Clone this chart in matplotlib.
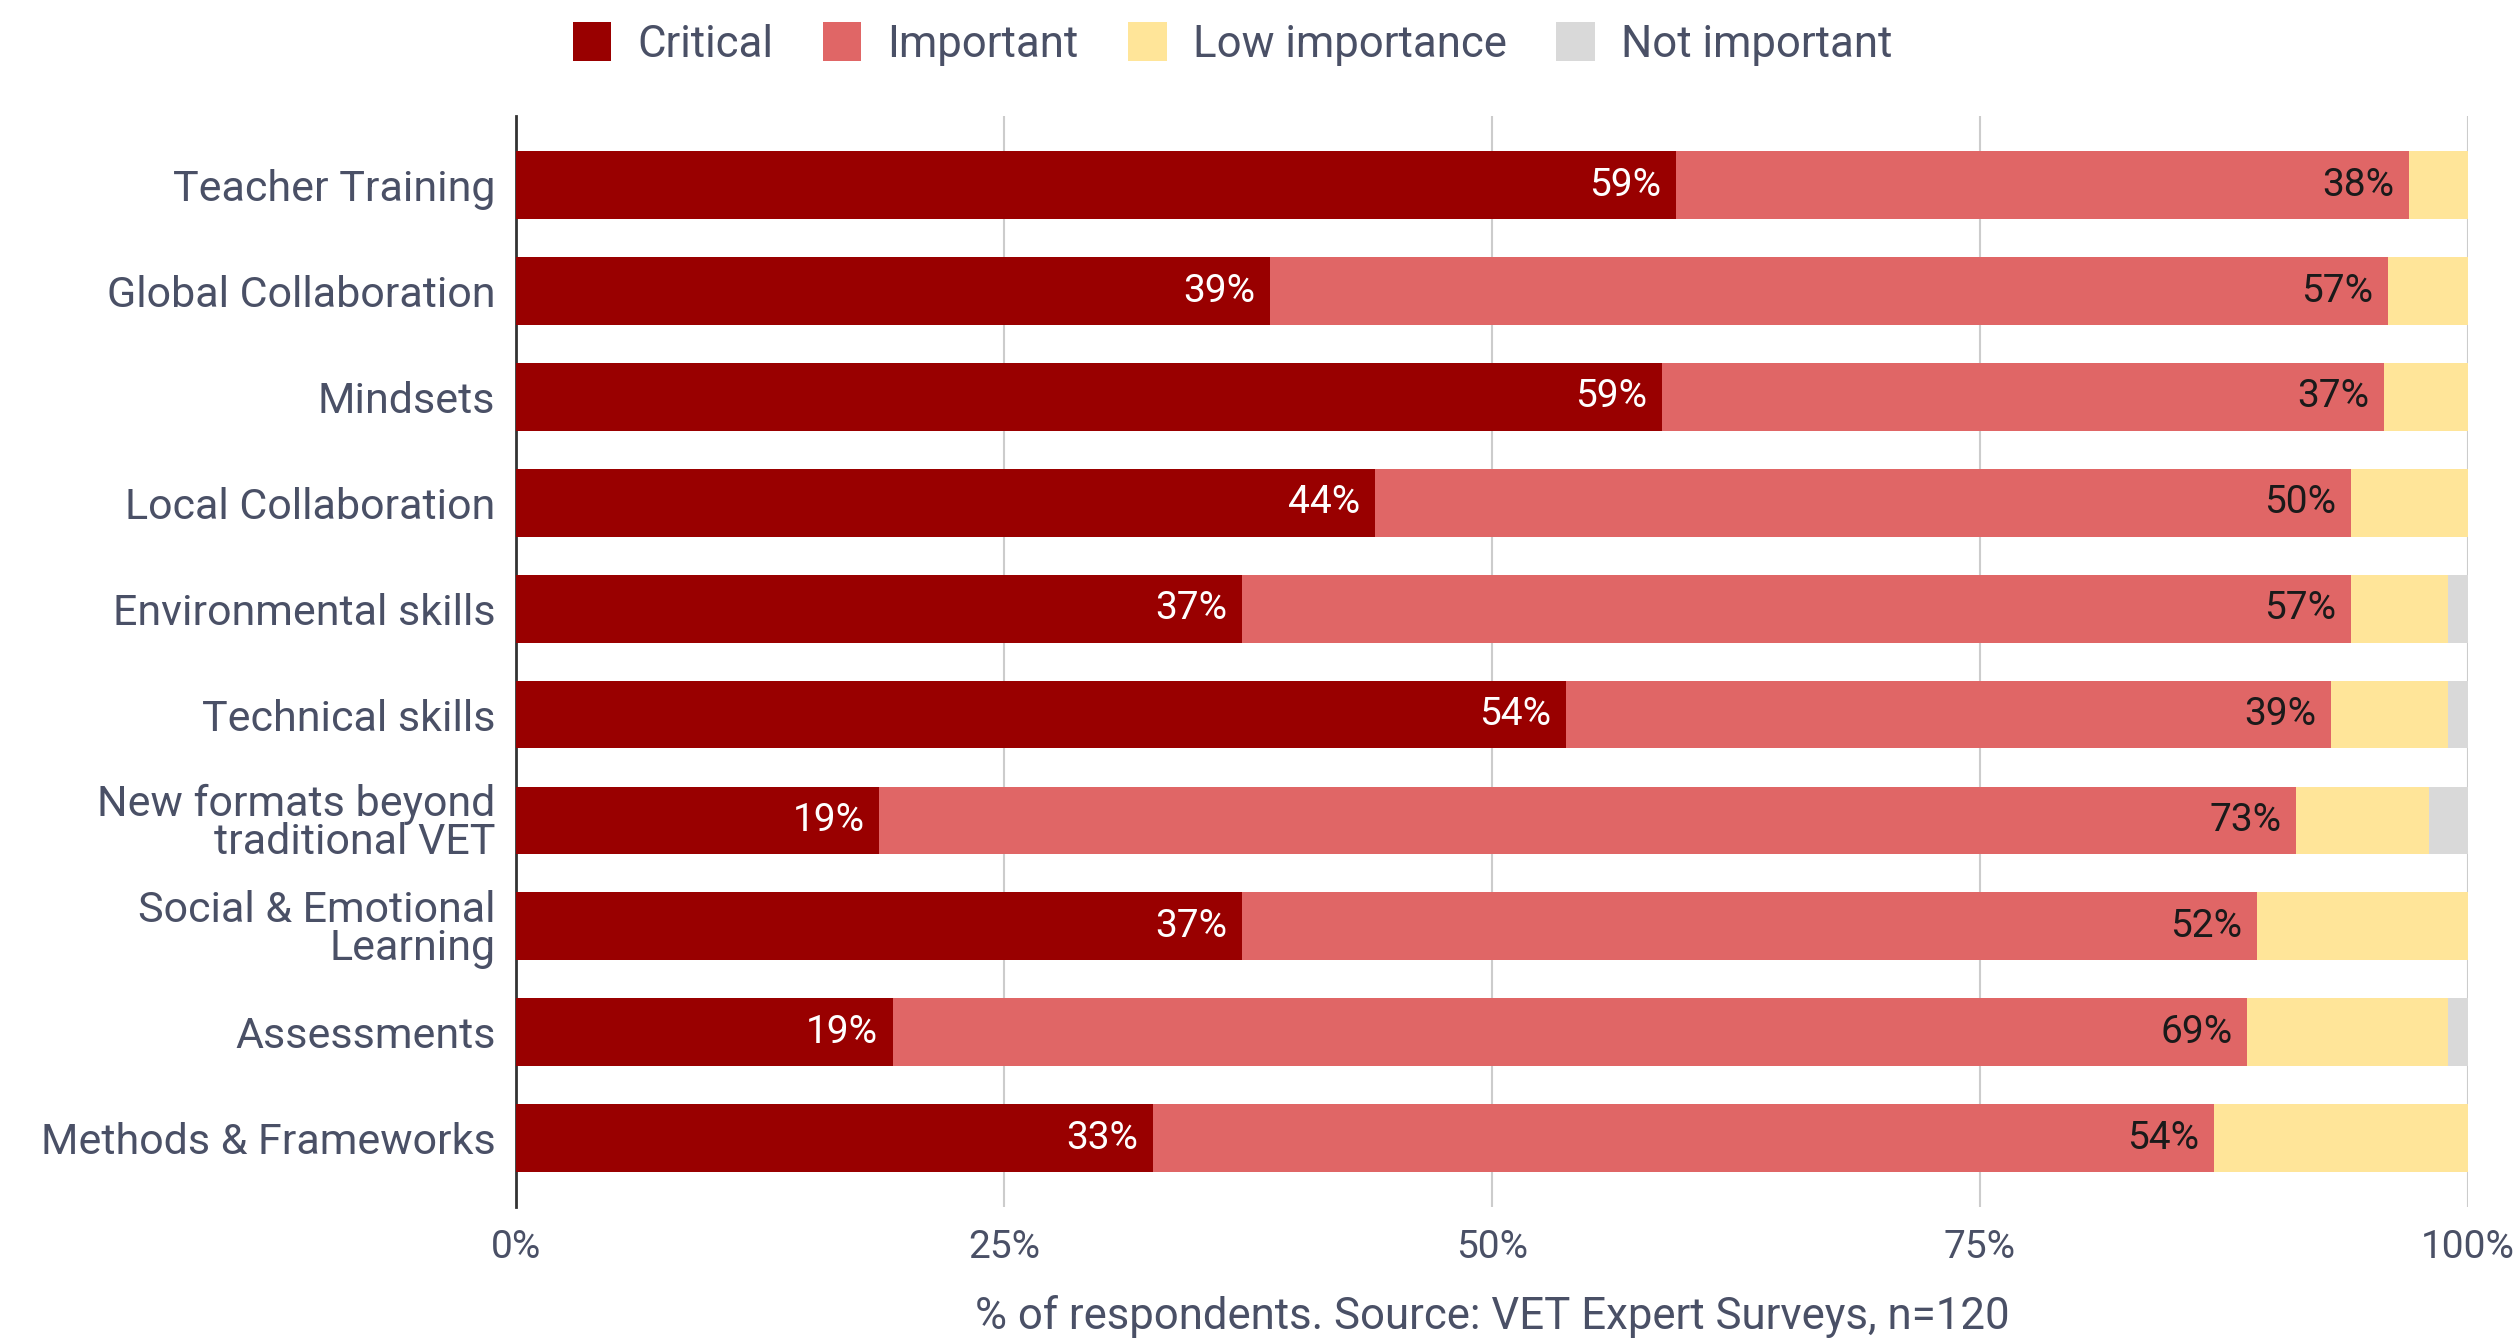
import matplotlib
matplotlib.use("Agg")
import matplotlib.pyplot as plt
import numpy as np

categories = ["Teacher Training", "Global Collaboration", "Mindsets", "Local Collaboration",
              "Environmental skills", "Technical skills", "New formats beyond\ntraditional VET",
              "Social & Emotional\nLearning", "Assessments", "Methods & Frameworks"]
critical = [59.4, 38.6, 58.7, 44.0, 37.2, 53.8, 18.6, 37.2, 19.3, 32.6]
important = [37.6, 57.3, 37.0, 50.0, 56.8, 39.2, 72.6, 52.0, 69.4, 54.4]
low = [3.0, 4.1, 4.3, 6.0, 5.0, 6.0, 6.8, 10.8, 10.3, 13.0]
not_imp = [0.0, 0.0, 0.0, 0.0, 1.0, 1.0, 2.0, 0.0, 1.0, 0.0]
series_names = ["Critical", "Important", "Low importance", "Not important"]
colors = ["#990000", "#e06666", "#ffe599", "#d9d9d9"]
xticks = [0, 25, 50, 75, 100]
xticklabels = ["0%", "25%", "50%", "75%", "100%"]
xlabel = "% of respondents. Source: VET Expert Surveys, n=120"

plt.rcParams['font.family'] = ['Roboto', 'DejaVu Sans']
text_color = "#4a5066"

fig = plt.figure(figsize=(25.15, 13.38), dpi=100)
ax = fig.add_axes([0.2053, 0.098, 0.7760, 0.815])

y = np.arange(len(categories))
data = [critical, important, low, not_imp]
left = np.zeros(len(categories))
bars_all = []
for vals, c, name in zip(data, colors, series_names):
    vals = np.array(vals)
    ax.barh(y, vals, left=left, height=0.64, color=c, label=name, zorder=3)
    bars_all.append((vals, left.copy()))
    left = left + vals

# labels
for i in range(len(categories)):
    for k, tc in [(0, "white"), (1, "#1a1a1a")]:
        vals, lft = bars_all[k]
        end = lft[i] + vals[i]
        ax.text(end - 0.75, y[i], f"{round(vals[i]):.0f}%", ha="right", va="center",
                color=tc, fontsize=28, zorder=4)

ax.set_xlim(0, 100)
ax.set_ylim(len(categories) - 0.35, -0.65)
ax.set_yticks(y)
ax.set_yticklabels(categories, fontsize=31, color=text_color, linespacing=0.92)
ax.set_xticks(xticks)
ax.set_xticklabels(xticklabels, fontsize=28, color=text_color)
ax.tick_params(axis='y', length=0, pad=15)
ax.tick_params(axis='x', length=0, pad=16)
ax.xaxis.grid(True, color="#cccccc", linewidth=1.5, zorder=0)
ax.set_axisbelow(True)
for s in ["top", "right", "bottom"]:
    ax.spines[s].set_visible(False)
ax.spines["left"].set_color("#333333")
ax.spines["left"].set_linewidth(2)
ax.set_xlabel(xlabel, fontsize=31.5, color=text_color, labelpad=21)

fig.legend(loc="upper center", bbox_to_anchor=(0.490, 1.013), ncol=4, frameon=False,
           fontsize=31.5, handlelength=0.88, handleheight=1.0, columnspacing=1.14,
           handletextpad=0.59, labelcolor=text_color)

fig.savefig("out.png", dpi=100, facecolor="white")
